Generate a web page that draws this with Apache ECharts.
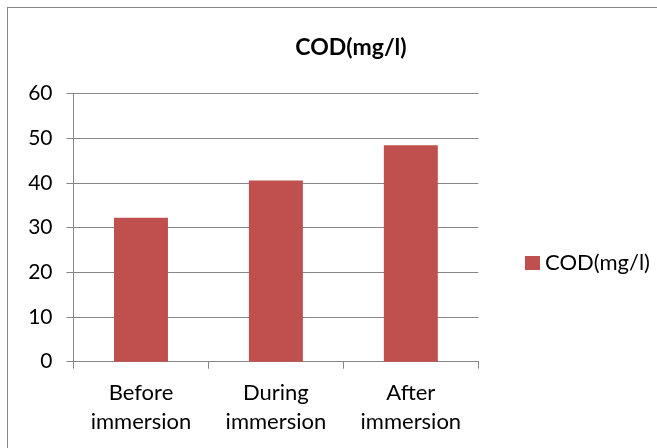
<!DOCTYPE html>
<html>
<head>
<meta charset="utf-8">
<script src="https://cdn.jsdelivr.net/npm/echarts@6/dist/echarts.min.js"></script>
<style>
html,body{margin:0;padding:0;background:#fff;}
#frame{position:absolute;left:7px;top:7px;width:700px;height:500px;border:1px solid #868686;box-sizing:border-box;}
#chart{position:absolute;left:0;top:0;width:657px;height:448px;}
</style>
</head>
<body>
<div id="frame"></div>
<div id="chart"></div>
<script>
const categories = ["Before\nimmersion", "During\nimmersion", "After\nimmersion"];
const codValues = [32.2, 40.5, 48.4];
const seriesName = "COD(mg/l)";
const titleText = "COD(mg/l)";

const chart = echarts.init(document.getElementById('chart'));
const fontFam = "Lato, 'Open Sans', sans-serif";
chart.setOption({
  backgroundColor: 'transparent',
  animation: false,
  title: {
    text: titleText,
    left: 346, top: 31,
    textAlign: 'center',
    textStyle: {fontFamily: fontFam, fontSize: 23, fontWeight: 'bold', color: '#000'}
  },
  legend: {
    left: 520, top: 247,
    itemWidth: 15, itemHeight: 14,
    itemGap: 5,
    icon: 'rect',
    textStyle: {fontFamily: fontFam, fontSize: 22, color: '#000'},
    data: [seriesName]
  },
  grid: {left: 73.5, right: 178.7, top: 93.3, bottom: 86.3, containLabel: false},
  xAxis: {
    type: 'category',
    data: categories,
    axisLine: {lineStyle: {color: '#868686', width: 1}},
    axisTick: {show: true, length: 7, lineStyle: {color: '#868686'}},
    axisLabel: {fontFamily: fontFam, fontSize: 22, color: '#000', lineHeight: 29, margin: 17, interval: 0}
  },
  yAxis: {
    type: 'value',
    min: 0, max: 60, interval: 10,
    axisLine: {show: true, lineStyle: {color: '#868686', width: 1}},
    axisTick: {show: true, length: 7, lineStyle: {color: '#868686'}},
    splitLine: {lineStyle: {color: '#868686', width: 1}},
    axisLabel: {fontFamily: fontFam, fontSize: 21, color: '#000', margin: 21}
  },
  series: [{
    name: seriesName,
    type: 'bar',
    data: codValues,
    barWidth: '40%',
    itemStyle: {color: '#C0504D'}
  }]
});
</script>
</body>
</html>
